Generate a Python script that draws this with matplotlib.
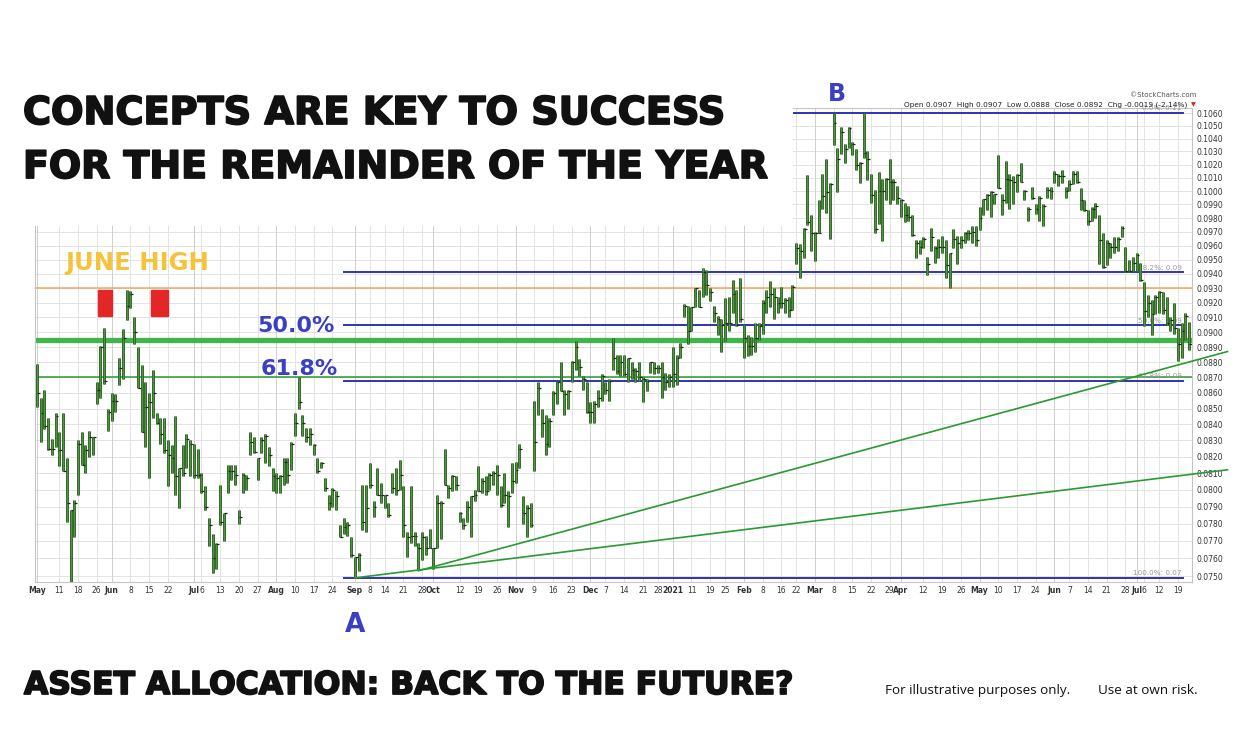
import numpy as np
import pandas as pd
import matplotlib
matplotlib.use("Agg")
import matplotlib.pyplot as plt
import matplotlib.patheffects as pe
from matplotlib.patches import Rectangle
from matplotlib.ticker import NullLocator, NullFormatter

W, H = 1247, 751

# daily bars: high, low, close
highs = [
    0.0879, 0.0857, 0.0862, 0.0844, 0.0831, 0.0847, 0.0835, 0.0847, 0.0819, 0.0788,
    0.0794, 0.0830, 0.0835, 0.0827, 0.0836, 0.0832, 0.0867, 0.0891, 0.0903, 0.0850,
    0.0860, 0.0859, 0.0883, 0.0902, 0.0929, 0.0928, 0.0910, 0.0890, 0.0878, 0.0867,
    0.0860, 0.0875, 0.0847, 0.0844, 0.0844, 0.0830, 0.0827, 0.0845, 0.0813, 0.0827,
    0.0834, 0.0830, 0.0828, 0.0825, 0.0810, 0.0802, 0.0783, 0.0774, 0.0769, 0.0803,
    0.0786, 0.0815, 0.0815, 0.0815, 0.0788, 0.0810, 0.0809, 0.0835, 0.0832, 0.0819,
    0.0832, 0.0834, 0.0826,
    0.0813, 0.0810, 0.0809, 0.0819, 0.0819, 0.0829, 0.0847,
    0.0870, 0.0846, 0.0838, 0.0838, 0.0828, 0.0819, 0.0817, 0.0807, 0.0797, 0.0801,
    0.0799, 0.0779, 0.0783, 0.0781, 0.0772, 0.0761, 0.0763, 0.0803, 0.0803, 0.0816,
    0.0793, 0.0813, 0.0804, 0.0797, 0.0792, 0.0810, 0.0813, 0.0818, 0.0802, 0.0775,
    0.0802, 0.0775, 0.0769, 0.0775, 0.0773, 0.0777, 0.0766, 0.0797, 0.0793, 0.0825,
    0.0803, 0.0809, 0.0808, 0.0787, 0.0783, 0.0793, 0.0796, 0.0800, 0.0814, 0.0807,
    0.0808, 0.0810, 0.0811, 0.0815,
    0.0802, 0.0810, 0.0799, 0.0816, 0.0817, 0.0828,
    0.0796, 0.0791, 0.0792, 0.0855, 0.0867, 0.0850, 0.0846, 0.0844, 0.0861, 0.0868,
    0.0880, 0.0862, 0.0862, 0.0881, 0.0894, 0.0882, 0.0871, 0.0867, 0.0854, 0.0855,
    0.0862, 0.0872, 0.0867, 0.0869, 0.0896, 0.0885, 0.0885, 0.0885, 0.0883, 0.0880,
    0.0876, 0.0880, 0.0870, 0.0869, 0.0880, 0.0880, 0.0878, 0.0880, 0.0873, 0.0872,
    0.0890, 0.0885, 0.0893, 0.0919, 0.0918, 0.0917, 0.0930, 0.0929, 0.0944, 0.0943,
    0.0930, 0.0918, 0.0911, 0.0909, 0.0923,
    0.0924, 0.0936, 0.0929, 0.0937, 0.0905,
    0.0898, 0.0897, 0.0906, 0.0906, 0.0922, 0.0929, 0.0935, 0.0930, 0.0924, 0.0931,
    0.0923, 0.0924, 0.0932, 0.0962, 0.0961, 0.0973, 0.1012, 0.0982, 0.0970, 0.0993,
    0.1013, 0.1024, 0.1006, 0.1060, 0.1033, 0.1049, 0.1036, 0.1049, 0.1037, 0.1032,
    0.1022, 0.1060, 0.1030, 0.1013, 0.1001, 0.1014, 0.1009, 0.1010, 0.1024, 0.1009,
    0.1004, 0.0994, 0.0991, 0.0989, 0.0982, 0.0964, 0.0964, 0.0966, 0.0952, 0.0973,
    0.0960, 0.0965, 0.0967, 0.0964, 0.0955, 0.0972, 0.0967,
    0.0967, 0.0970, 0.0971,
    0.0974, 0.0974, 0.0988, 0.0994, 0.0998, 0.1000, 0.0998, 0.1027, 0.0998, 0.1023,
    0.1013, 0.1011, 0.1013, 0.1021, 0.1001, 0.0988, 0.1003, 0.0990, 0.0996, 0.0990,
    0.1003, 0.1003, 0.1015, 0.1013, 0.1016, 0.1003, 0.1008, 0.1015, 0.1015, 0.1002,
    0.0993, 0.0986, 0.0988, 0.0991, 0.0982, 0.0969, 0.0964, 0.0962, 0.0966, 0.0966,
    0.0974, 0.0959, 0.0950, 0.0952, 0.0955, 0.0948, 0.0934, 0.0925, 0.0922, 0.0925,
    0.0928, 0.0927, 0.0924, 0.0910, 0.0920, 0.0903, 0.0906, 0.0913, 0.0907,
]
lows = [
    0.0851, 0.0829, 0.0837, 0.0824, 0.0821, 0.0826, 0.0814, 0.0811, 0.0781, 0.0746,
    0.0772, 0.0797, 0.0815, 0.0810, 0.0820, 0.0821, 0.0853, 0.0857, 0.0866, 0.0836,
    0.0842, 0.0848, 0.0865, 0.0869, 0.0908, 0.0916, 0.0892, 0.0863, 0.0835, 0.0826,
    0.0807, 0.0844, 0.0840, 0.0828, 0.0822, 0.0802, 0.0810, 0.0797, 0.0789, 0.0808,
    0.0813, 0.0808, 0.0807, 0.0807, 0.0798, 0.0788, 0.0767, 0.0752, 0.0754, 0.0779,
    0.0770, 0.0798, 0.0806, 0.0803, 0.0780, 0.0798, 0.0800, 0.0821, 0.0822, 0.0806,
    0.0822, 0.0816, 0.0814,
    0.0799, 0.0798, 0.0798, 0.0803, 0.0804, 0.0812, 0.0833,
    0.0850, 0.0833, 0.0829, 0.0827, 0.0821, 0.0810, 0.0813, 0.0799, 0.0788, 0.0790,
    0.0788, 0.0772, 0.0774, 0.0773, 0.0761, 0.0749, 0.0753, 0.0776, 0.0775, 0.0801,
    0.0784, 0.0797, 0.0792, 0.0789, 0.0784, 0.0798, 0.0797, 0.0800, 0.0772, 0.0761,
    0.0769, 0.0767, 0.0754, 0.0759, 0.0762, 0.0766, 0.0754, 0.0766, 0.0771, 0.0803,
    0.0795, 0.0799, 0.0800, 0.0781, 0.0777, 0.0781, 0.0772, 0.0793, 0.0799, 0.0798,
    0.0797, 0.0800, 0.0803, 0.0797,
    0.0790, 0.0792, 0.0778, 0.0798, 0.0804, 0.0813,
    0.0780, 0.0772, 0.0778, 0.0811, 0.0846, 0.0832, 0.0821, 0.0826, 0.0846, 0.0853,
    0.0861, 0.0846, 0.0850, 0.0867, 0.0875, 0.0871, 0.0862, 0.0847, 0.0841, 0.0841,
    0.0851, 0.0855, 0.0859, 0.0855, 0.0875, 0.0872, 0.0871, 0.0871, 0.0867, 0.0869,
    0.0867, 0.0868, 0.0854, 0.0861, 0.0873, 0.0872, 0.0873, 0.0857, 0.0862, 0.0864,
    0.0864, 0.0865, 0.0883, 0.0910, 0.0892, 0.0901, 0.0917, 0.0917, 0.0924, 0.0925,
    0.0921, 0.0907, 0.0898, 0.0887, 0.0894,
    0.0901, 0.0913, 0.0904, 0.0907, 0.0883,
    0.0884, 0.0885, 0.0887, 0.0895, 0.0899, 0.0913, 0.0917, 0.0909, 0.0913, 0.0916,
    0.0913, 0.0910, 0.0915, 0.0947, 0.0937, 0.0951, 0.0975, 0.0956, 0.0949, 0.0969,
    0.0987, 0.0984, 0.0965, 0.1035, 0.0999, 0.1028, 0.1021, 0.1033, 0.1027, 0.1016,
    0.1006, 0.1025, 0.1008, 0.0991, 0.0969, 0.0976, 0.0963, 0.0993, 0.0990, 0.0993,
    0.0990, 0.0981, 0.0977, 0.0978, 0.0967, 0.0951, 0.0954, 0.0958, 0.0939, 0.0956,
    0.0948, 0.0951, 0.0955, 0.0937, 0.0930, 0.0958, 0.0947,
    0.0958, 0.0962, 0.0964,
    0.0962, 0.0960, 0.0971, 0.0982, 0.0986, 0.0981, 0.0990, 0.1002, 0.0982, 0.0991,
    0.0987, 0.0990, 0.0999, 0.1007, 0.0993, 0.0978, 0.0994, 0.0983, 0.0978, 0.0974,
    0.0995, 0.0994, 0.1006, 0.1004, 0.1006, 0.0995, 0.1000, 0.1005, 0.1006, 0.0986,
    0.0985, 0.0975, 0.0978, 0.0980, 0.0947, 0.0944, 0.0946, 0.0951, 0.0955, 0.0956,
    0.0966, 0.0941, 0.0941, 0.0942, 0.0942, 0.0935, 0.0904, 0.0910, 0.0898, 0.0912,
    0.0913, 0.0912, 0.0905, 0.0901, 0.0899, 0.0881, 0.0883, 0.0895, 0.0888,
]
closes = [
    0.0860, 0.0847, 0.0839, 0.0825, 0.0825, 0.0845, 0.0824, 0.0811, 0.0792, 0.0788,
    0.0792, 0.0828, 0.0815, 0.0824, 0.0832, 0.0832, 0.0862, 0.0890, 0.0868, 0.0848,
    0.0855, 0.0855, 0.0876, 0.0896, 0.0918, 0.0926, 0.0900, 0.0863, 0.0835, 0.0851,
    0.0854, 0.0860, 0.0841, 0.0834, 0.0824, 0.0821, 0.0819, 0.0808, 0.0813, 0.0810,
    0.0831, 0.0828, 0.0809, 0.0809, 0.0799, 0.0790, 0.0779, 0.0760, 0.0768, 0.0781,
    0.0786, 0.0811, 0.0811, 0.0809, 0.0784, 0.0809, 0.0807, 0.0829, 0.0823, 0.0819,
    0.0830, 0.0833, 0.0821,
    0.0808, 0.0807, 0.0808, 0.0817, 0.0809, 0.0828, 0.0841,
    0.0854, 0.0841, 0.0832, 0.0834, 0.0827, 0.0811, 0.0816, 0.0801, 0.0792, 0.0800,
    0.0796, 0.0772, 0.0778, 0.0779, 0.0762, 0.0761, 0.0762, 0.0781, 0.0789, 0.0803,
    0.0790, 0.0797, 0.0797, 0.0797, 0.0785, 0.0801, 0.0800, 0.0809, 0.0779, 0.0772,
    0.0773, 0.0773, 0.0766, 0.0772, 0.0766, 0.0766, 0.0766, 0.0792, 0.0792, 0.0803,
    0.0801, 0.0808, 0.0803, 0.0786, 0.0779, 0.0790, 0.0796, 0.0797, 0.0799, 0.0805,
    0.0799, 0.0809, 0.0810, 0.0809,
    0.0791, 0.0797, 0.0796, 0.0805, 0.0812, 0.0825,
    0.0786, 0.0789, 0.0779, 0.0829, 0.0863, 0.0841, 0.0828, 0.0842, 0.0860, 0.0867,
    0.0861, 0.0859, 0.0861, 0.0880, 0.0890, 0.0877, 0.0869, 0.0848, 0.0848, 0.0853,
    0.0857, 0.0871, 0.0862, 0.0868, 0.0883, 0.0874, 0.0880, 0.0872, 0.0883, 0.0875,
    0.0874, 0.0870, 0.0869, 0.0868, 0.0880, 0.0876, 0.0876, 0.0870, 0.0867, 0.0870,
    0.0872, 0.0883, 0.0890, 0.0918, 0.0901, 0.0917, 0.0930, 0.0917, 0.0941, 0.0932,
    0.0927, 0.0913, 0.0909, 0.0905, 0.0906,
    0.0906, 0.0926, 0.0905, 0.0909, 0.0896,
    0.0891, 0.0891, 0.0896, 0.0904, 0.0920, 0.0924, 0.0926, 0.0924, 0.0920, 0.0920,
    0.0922, 0.0915, 0.0931, 0.0958, 0.0956, 0.0972, 0.0977, 0.0969, 0.0969, 0.0969,
    0.0996, 0.0999, 0.1005, 0.1052, 0.1024, 0.1045, 0.1032, 0.1048, 0.1036, 0.1020,
    0.1021, 0.1029, 0.1024, 0.0997, 0.0972, 0.1000, 0.1000, 0.1009, 0.1007, 0.1007,
    0.0995, 0.0993, 0.0982, 0.0981, 0.0968, 0.0962, 0.0959, 0.0965, 0.0947, 0.0966,
    0.0958, 0.0959, 0.0959, 0.0946, 0.0955, 0.0965, 0.0962,
    0.0964, 0.0969, 0.0969,
    0.0970, 0.0964, 0.0980, 0.0994, 0.0997, 0.0999, 0.0998, 0.1002, 0.0993, 0.1009,
    0.1008, 0.1007, 0.1012, 0.1007, 0.1000, 0.0987, 0.0995, 0.0987, 0.0995, 0.0989,
    0.1001, 0.1000, 0.1013, 0.1011, 0.1011, 0.1000, 0.1005, 0.1013, 0.1007, 0.0993,
    0.0986, 0.0978, 0.0987, 0.0989, 0.0964, 0.0945, 0.0962, 0.0959, 0.0959, 0.0965,
    0.0973, 0.0942, 0.0942, 0.0948, 0.0953, 0.0936, 0.0914, 0.0920, 0.0912, 0.0924,
    0.0927, 0.0915, 0.0906, 0.0908, 0.0903, 0.0892, 0.0901, 0.0911, 0.0892,
]

holidays = ["2020-05-25", "2020-07-03", "2020-09-07", "2020-11-26", "2020-12-25",
            "2021-01-01", "2021-01-18", "2021-02-15", "2021-04-02", "2021-05-31",
            "2021-07-05"]

tick_dates = [
    "2020-05-01", "2020-05-11", "2020-05-18", "2020-05-26", "2020-06-01", "2020-06-08",
    "2020-06-15", "2020-06-22", "2020-07-01", "2020-07-06", "2020-07-13", "2020-07-20",
    "2020-07-27", "2020-08-03", "2020-08-10", "2020-08-17", "2020-08-24", "2020-09-01",
    "2020-09-08", "2020-09-14", "2020-09-21", "2020-09-28", "2020-10-01", "2020-10-12",
    "2020-10-19", "2020-10-26", "2020-11-02", "2020-11-09", "2020-11-16", "2020-11-23",
    "2020-12-01", "2020-12-07", "2020-12-14", "2020-12-21", "2020-12-28", "2021-01-04",
    "2021-01-11", "2021-01-19", "2021-01-25", "2021-02-01", "2021-02-08", "2021-02-16",
    "2021-02-22", "2021-03-01", "2021-03-08", "2021-03-15", "2021-03-22", "2021-03-29",
    "2021-04-01", "2021-04-12", "2021-04-19", "2021-04-26", "2021-05-03", "2021-05-10",
    "2021-05-17", "2021-05-24", "2021-06-01", "2021-06-07", "2021-06-14", "2021-06-21",
    "2021-06-28", "2021-07-01", "2021-07-06", "2021-07-12", "2021-07-19",
]
tick_labels = [
    "May", "11", "18", "26", "Jun", "8", "15", "22", "Jul", "6", "13", "20", "27",
    "Aug", "10", "17", "24", "Sep", "8", "14", "21", "28", "Oct", "12", "19", "26",
    "Nov", "9", "16", "23", "Dec", "7", "14", "21", "28", "2021", "11", "19", "25",
    "Feb", "8", "16", "22", "Mar", "8", "15", "22", "29", "Apr", "12", "19", "26",
    "May", "10", "17", "24", "Jun", "7", "14", "21", "28", "Jul", "6", "12", "19",
]

# swing points for the fibonacci retracement and the two trendlines
point_a = "2020-09-01"
point_b = "2021-03-08"
fib_pcts = [0.0, 38.2, 50.0, 61.8, 100.0]
june_high = 0.0930
support_thick = 0.0895
support_thin = 0.0870
trend_starts = [("2020-09-25", 0.0753), ("2020-09-01", 0.0749)]
trend_ends = [0.0887, 0.0812]
header = "Open 0.0907  High 0.0907  Low 0.0888  Close 0.0892  Chg -0.0019 (-2.14%)"


def fx(x):
    return x / W


def fy(y):
    return 1 - y / H


n = min(len(highs), len(lows), len(closes))
days = pd.bdate_range("2020-05-01", "2021-08-31")
days = days[~days.isin(pd.to_datetime(holidays))][:n]
xs = np.arange(n)


def day_idx(d):
    return int(days.get_loc(pd.Timestamp(d)))


fig = plt.figure(figsize=(W / 100, H / 100), dpi=100)
fig.patch.set_facecolor("white")
ax = fig.add_axes([fx(35), fy(582), (1192 - 35) / W, (582 - 108) / H])

ax.set_yscale("log")
ax.set_xlim(-0.5, n - 0.2)
ax.set_ylim(0.07467, 0.1064)

# grid
levels = np.round(np.arange(0.0750, 0.10605, 0.001), 4)
for v in levels:
    ax.axhline(v, color="#e3e3e3", lw=0.7, zorder=0)
tick_idx = [day_idx(d) for d in tick_dates]
for t, lab in zip(tick_idx, tick_labels):
    major = not lab.isdigit() or len(lab) == 4
    ax.axvline(t, color="#cfcfcf" if major else "#e3e3e3", lw=0.7, zorder=0)

# red markers near the June high
for x0, x1 in [(16.3, 20.1), (30.5, 35.0)]:
    ax.add_patch(Rectangle((x0, 0.0911), x1 - x0, 0.0018, color="#e32626", zorder=1))

# horizontal references
ax.axhline(june_high, color="#f0a65c", lw=1.1, zorder=2)
ax.axhline(support_thick, color="#3fb54a", lw=3.8, zorder=2)
ax.axhline(support_thin, color="#279a2c", lw=1.1, zorder=2)

# fibonacci retracement from A to B
a_i, b_i = day_idx(point_a), day_idx(point_b)
a_val, b_val = lows[a_i], highs[b_i]
fx0, fx1 = a_i - 2.8, n - 2.5
for p in fib_pcts:
    lvl = b_val - (b_val - a_val) * p / 100
    ax.plot([fx0, fx1], [lvl, lvl], color="#2e33b5", lw=1.4, zorder=3)
    ax.text(fx1 - 0.5, lvl * 1.0012, "%.1f%%: %.2f" % (p, lvl), ha="right", va="bottom",
            fontsize=5.2, color="#9a9a9a", zorder=3)

# bars
ax.vlines(xs, lows[:n], highs[:n], color="#2b5a22", lw=2.1, zorder=4)
ax.vlines(xs, lows[:n], highs[:n], color="#4f9640", lw=1.0, zorder=5)
ax.hlines(closes[:n], xs, xs + 0.75, color="#1a2a16", lw=0.9, zorder=5)

# trendlines
x_end = n + 9.3
for (d, v0), v1 in zip(trend_starts, trend_ends):
    ax.plot([day_idx(d), x_end], [v0, v1], color="#2a9a30", lw=1.2, zorder=6,
            clip_on=False)

# axes styling
ax.set_xticks(tick_idx)
ax.set_xticklabels(tick_labels)
for lab in ax.get_xticklabels():
    txt = lab.get_text()
    if not txt.isdigit() or len(txt) == 4:
        lab.set_fontweight("bold")
ax.tick_params(axis="x", length=0, pad=3, labelsize=5.5, colors="#333333")
ax.yaxis.tick_right()
ax.set_yticks(levels)
ax.set_yticklabels(["%.4f" % v for v in levels])
ax.yaxis.set_minor_locator(NullLocator())
ax.yaxis.set_minor_formatter(NullFormatter())
ax.tick_params(axis="y", length=0, pad=3, labelsize=5.5, colors="#333333")
for s in ax.spines.values():
    s.set_color("#c4c4c4")
    s.set_linewidth(0.8)

# white title panel over the top-left of the chart
fig.patches.append(Rectangle((0, fy(226)), fx(793), 226 / H, transform=fig.transFigure,
                             facecolor="white", edgecolor="none", zorder=1))

heavy = [pe.withStroke(linewidth=1.3, foreground="#111111")]
title_font = dict(family="DejaVu Sans", weight="bold", color="#111111", zorder=2,
                  path_effects=heavy)
fig.text(fx(23), fy(124), "CONCEPTS ARE KEY TO SUCCESS", fontsize=27.5, va="baseline",
         **title_font)
fig.text(fx(23), fy(178), "FOR THE REMAINDER OF THE YEAR", fontsize=27.3, va="baseline",
         **title_font)
fig.text(fx(24), fy(694), "ASSET ALLOCATION: BACK TO THE FUTURE?", fontsize=22.6,
         va="baseline", **title_font)

lab_font = dict(family="DejaVu Sans", weight="bold", zorder=3)
blue = "#3b3fc2"
fig.text(fx(65), fy(270), "JUNE HIGH", fontsize=17.5, color="#f5c23a", va="baseline", **lab_font)
fig.text(fx(257), fy(332), "50.0%", fontsize=16, color=blue, va="baseline", **lab_font)
fig.text(fx(261), fy(375), "61.8%", fontsize=16, color=blue, va="baseline", **lab_font)
fig.text(fx(828), fy(101), "B", fontsize=17, color=blue, va="baseline", **lab_font)
fig.text(fx(345), fy(632), "A", fontsize=19, color=blue, va="baseline", **lab_font)

fig.text(fx(885), fy(694), "For illustrative purposes only.", fontsize=9.7,
         family=["Open Sans", "DejaVu Sans"], color="#111111", va="baseline")
fig.text(fx(1098), fy(694), "Use at own risk.", fontsize=9.7,
         family=["Open Sans", "DejaVu Sans"], color="#111111", va="baseline")

fig.text(fx(1196), fy(97), "\u00a9StockCharts.com", fontsize=5, color="#555555",
         ha="right", va="baseline")
fig.text(fx(1187), fy(106), header, fontsize=5.3, color="#222222", ha="right",
         va="baseline", zorder=3)
fig.text(fx(1196), fy(106), "\u25bc", fontsize=4.5, color="#cc2222", ha="right",
         va="baseline", zorder=3)

fig.savefig("out.png", dpi=100, facecolor="white")
